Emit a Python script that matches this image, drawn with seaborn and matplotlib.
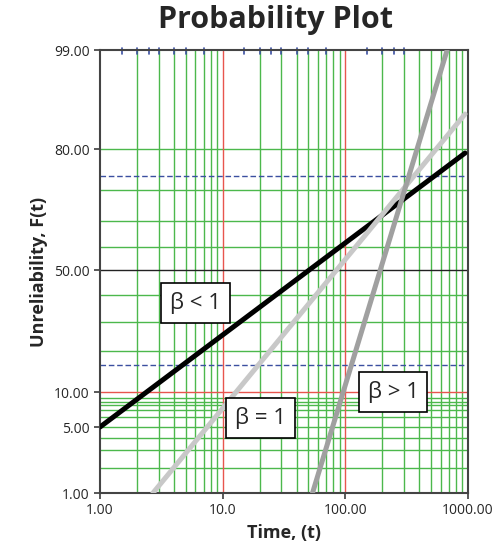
import numpy as np
import pandas as pd
import matplotlib
matplotlib.use("Agg")
import matplotlib.pyplot as plt
import seaborn as sns

sns.set_theme(style="white")
plt.rcParams["font.family"] = ["Open Sans", "DejaVu Sans"]

# ── data ─────────────────────────────────────────────────────────────────────
# y is an arbitrary linearised probability scale (0 = 1 %, 443 = 99 %)
prob_ticks = [0, 66, 101, 223, 344, 443]
prob_labels = ["1.00", "5.00", "10.00", "50.00", "80.00", "99.00"]
green_h = [25, 43, 55, 76, 83, 88, 91, 95, 142, 171, 198, 246, 272, 303, 344]
red_h = [101]
black_h = [223]
blue_h = [128, 317]

time_ticks = [1, 10, 100, 1000]
time_labels = ["1.00", "10.0", "100.00", "1000.00"]
top_tick_mult = [1.5, 2, 2.5, 3, 4, 5, 7]

line_names = ["β < 1", "β < 1", "β = 1", "β = 1", "β > 1", "β > 1"]
line_t = [1.0, 946, 2.7, 946, 54, 676]
line_y = [66, 340, 0, 379, 0, 443]
line_colors = {"β < 1": "#000000", "β = 1": "#c8c8c8", "β > 1": "#a0a0a0"}

label_text = ["β < 1", "β = 1", "β > 1"]
label_t = [6.0, 20.4, 245]
label_y = [190, 75, 101]

# ── figure ───────────────────────────────────────────────────────────────────
fig = plt.figure(figsize=(5, 5.5), dpi=100)
ax = fig.add_axes([0.2, 0.1036, 0.736, 0.8054])
ax.set_xscale("log")
ax.set_xlim(1, 1000)
ax.set_ylim(0, 443)

# grid
for k in [1, 10, 100]:
    for m in range(2, 10):
        ax.axvline(m * k, color="#4cb84c", lw=1, zorder=1)
for v in [10, 100]:
    ax.axvline(v, color="#e8554e", lw=1, zorder=1.5)
for h in green_h:
    ax.axhline(h, color="#4cb84c", lw=1, zorder=1)
for h in red_h:
    ax.axhline(h, color="#e8554e", lw=1, zorder=1.5)
for h in black_h:
    ax.axhline(h, color="#222222", lw=1, zorder=1.5)
for h in blue_h:
    ax.axhline(h, color="#3b4fa0", lw=1, ls=(0, (4, 2)), zorder=1.5)
ax.axhline(66, color="#4cb84c", lw=1, zorder=1)

# blue minor ticks along the top
for k in [1, 10, 100]:
    for m in top_tick_mult:
        if m * k <= 300:
            ax.plot([m * k, m * k], [439, 445], color="#3b4fa0", lw=1.2, zorder=2,
                    clip_on=False)

df = pd.DataFrame({"name": line_names, "t": line_t, "y": line_y})
sns.lineplot(data=df, x="t", y="y", hue="name", palette=line_colors, lw=3.6,
             legend=False, ax=ax, zorder=3, estimator=None, sort=False,
             units="name")

for txt, tx, ty in zip(label_text, label_t, label_y):
    ax.text(tx, ty, txt, fontsize=16, ha="center", va="center", zorder=5,
            bbox=dict(boxstyle="square,pad=0.4", fc="white", ec="black", lw=1.2))

ax.set_xticks(time_ticks)
ax.set_xticklabels(time_labels)
ax.set_yticks(prob_ticks)
ax.set_yticklabels(prob_labels)
ax.minorticks_off()
ax.tick_params(axis="both", labelsize=10, length=4, color="#444444",
               direction="out", left=True, bottom=True)
for s in ax.spines.values():
    s.set_color("#444444")
    s.set_linewidth(1.5)

ax.set_xlabel("Time, (t)", fontsize=13, fontweight="bold")
ax.set_ylabel("Unreliability, F(t)", fontsize=13, fontweight="bold")
fig.text(0.55, 0.963, "Probability Plot", fontsize=22, fontweight="bold",
         ha="center", va="center")

fig.savefig("out.png", dpi=100)
